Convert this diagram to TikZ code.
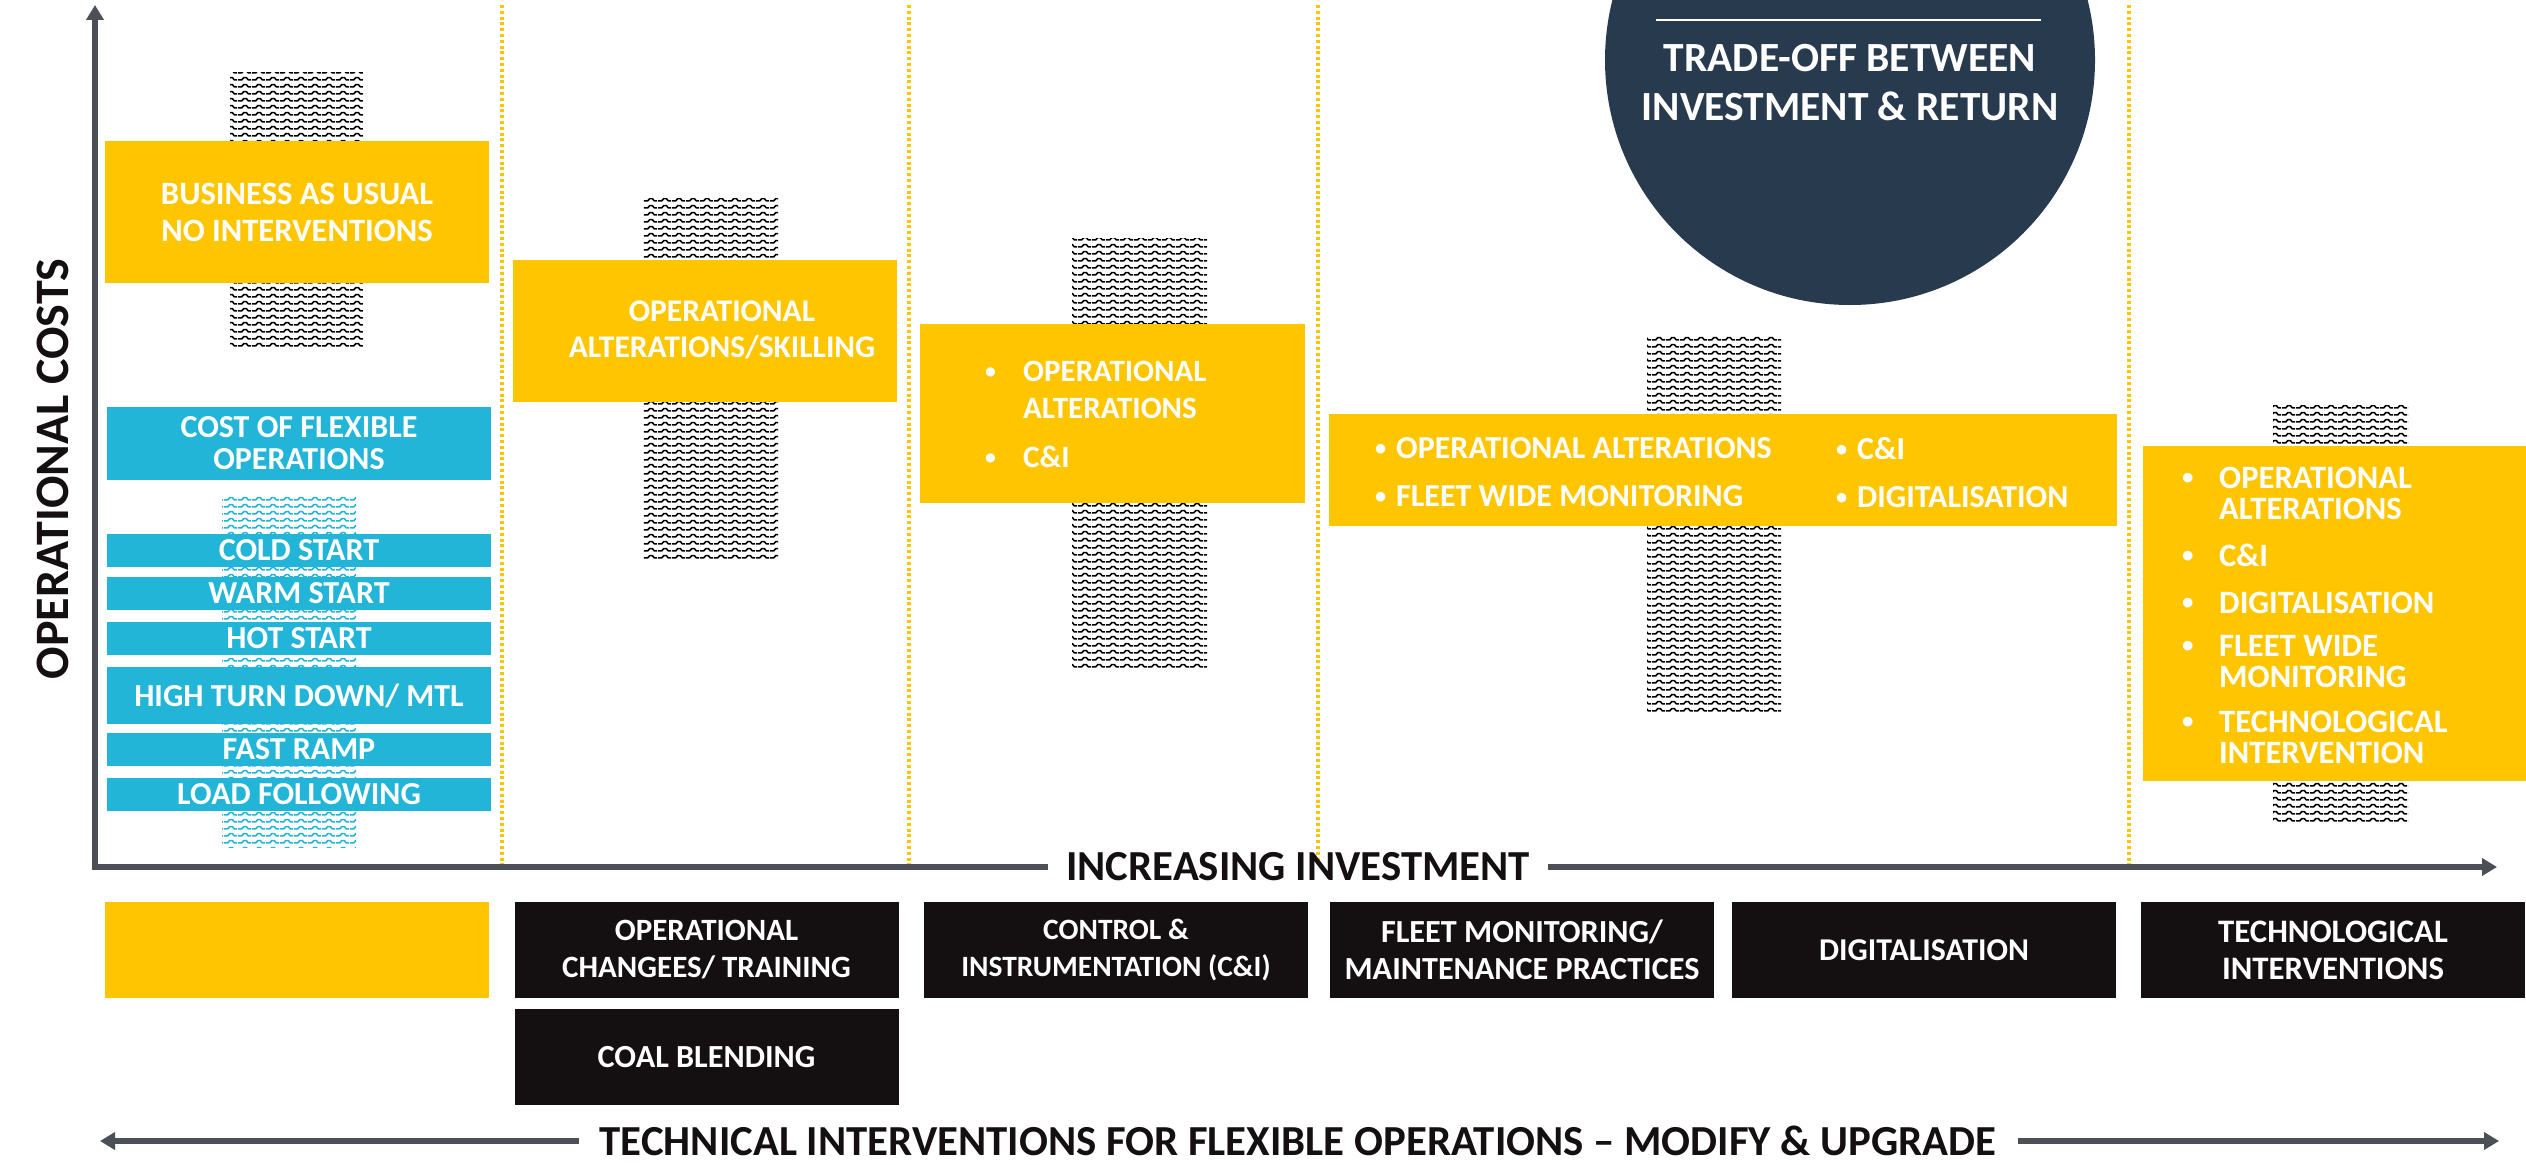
\documentclass[tikz,border=0pt]{standalone}
\usepackage{fontspec}
\setmainfont{Carlito}
\usetikzlibrary{arrows.meta, patterns.meta}

\definecolor{BoxYellow}{HTML}{FFC600}
\definecolor{BoxBlue}{HTML}{23B5D8}
\definecolor{Navy}{HTML}{283A4D}
\definecolor{AxisGray}{HTML}{4A5056}
\definecolor{Ink}{HTML}{140F10}

\newcommand{\itemdot}{\raisebox{0.1em}{\scalebox{0.7}{\textbullet}}}

\tikzdeclarepattern{
  name=ripple,
  type=uncolored,
  bounding box={(0pt,0pt) and (14pt,7.3pt)},
  tile size={(14pt,7.3pt)},
  code={
    \draw[line width=1.7pt] (0pt,1.2pt) -- (4pt,1.2pt) -- (6pt,3.6pt) -- (9pt,3.6pt) -- (11pt,1.2pt) -- (14pt,1.2pt);
  }
}

\begin{document}
\begin{tikzpicture}[x=1pt, y=-1pt,
  ybox/.style={fill=BoxYellow, inner sep=0pt, text=white, align=center, minimum width=384pt,
    font=\bfseries\fontsize{32.6}{37}\selectfont},
  bbox/.style={fill=BoxBlue, inner sep=0pt, text=white, align=center, minimum width=384pt,
    font=\bfseries\fontsize{32}{32}\selectfont},
  kbox/.style={fill=Ink, inner sep=0pt, text=white, align=center, minimum width=384pt, minimum height=96pt},
  listtxt/.style={inner sep=0pt, text=white, align=left, anchor=north west},
  axisline/.style={AxisGray, line width=6pt},
  axislbl/.style={inner ysep=0pt, inner xsep=20pt, text=Ink, font=\bfseries\fontsize{42.8}{46}\selectfont},
  stagesep/.style={BoxYellow, line width=3.5pt, dash pattern=on 3pt off 2.8pt},
  tip/.style={-{Triangle[length=15pt, width=17pt]}}]
\useasboundingbox (0,0) rectangle (2526,1164);

% stage separators
\foreach \x in {502,909,1318,2129}
  \draw[stagesep] (\x,5) -- (\x,864);

% hatched bands behind the boxes
\foreach \xa/\ya/\xb/\yb in {230/72/363/347, 643/198/778/558, 1072/238/1207/669, 1647/334/1781/711, 2273/405/2408/821}
  \fill[pattern=ripple, pattern color=black] (\xa,\ya) rectangle (\xb,\yb);
\fill[pattern=ripple, pattern color=BoxBlue] (222,495) rectangle (356,847);

% trade-off disc
\begin{scope}
\clip (0,0) rectangle (2526,1164);
\fill[Navy] (1850,60) circle [radius=245];
\end{scope}
\draw[white, line width=1.2pt] (1656,20) -- (2041,20);
\node[text=white, align=center, font=\bfseries\fontsize{41.5}{49}\selectfont] (tradeoff) at (1850,82.5)
  {TRADE-OFF BETWEEN\\INVESTMENT \& RETURN};

% column 1
\node[ybox, minimum height=142pt] (bau) at (297,212) {BUSINESS AS USUAL\\NO INTERVENTIONS};
\node[bbox, minimum height=73pt] (flexcost) at (299,443.5) {COST OF FLEXIBLE\\OPERATIONS};
\foreach \nm/\yc/\hh/\txt in {cold/550.5/33/COLD START, warm/593.5/33/WARM START, hot/638.5/33/HOT START,
    mtl/695.5/57/{HIGH TURN DOWN/ MTL}, ramp/749.5/33/FAST RAMP, load/794.5/33/LOAD FOLLOWING}
  \node[bbox, minimum height=\hh] (\nm) at (299,\yc) {\txt};

% column 2
\node[ybox, minimum height=142pt] (skill) at (705,331) {};
\node[text=white, align=center, inner sep=0pt, font=\bfseries\fontsize{31.5}{36}\selectfont] (skill-txt) at (722,330)
  {OPERATIONAL\\ALTERATIONS/SKILLING};

% column 3
\node[ybox, minimum width=385pt, minimum height=179pt] (ci) at (1112.5,413.5) {};
\node[listtxt, font=\bfseries\fontsize{31}{37}\selectfont] (ci-list) at (985,361)
  {\makebox[38pt][l]{\itemdot}OPERATIONAL\\\hspace*{38pt}ALTERATIONS\\[12pt]\makebox[38pt][l]{\itemdot}C\&I};

% column 4
\node[ybox, minimum width=788pt, minimum height=112pt] (fleet) at (1723,470) {};
\node[listtxt, font=\bfseries\fontsize{32}{48}\selectfont] (fleet-lista) at (1375,437.5)
  {\makebox[21pt][l]{\itemdot}OPERATIONAL ALTERATIONS\\\makebox[21pt][l]{\itemdot}FLEET WIDE MONITORING};
\node[listtxt, font=\bfseries\fontsize{32}{48}\selectfont] (fleet-listb) at (1836,437.5)
  {\makebox[21pt][l]{\itemdot}C\&I\\\makebox[21pt][l]{\itemdot}DIGITALISATION};

% column 5
\node[ybox, minimum width=383pt, minimum height=335pt] (tech) at (2334.5,613.5) {};
\node[listtxt, font=\bfseries\fontsize{32.6}{31}\selectfont] (tech-list) at (2182,466.5)
  {\makebox[37pt][l]{\itemdot}OPERATIONAL\\\hspace*{37pt}ALTERATIONS\\[16pt]
   \makebox[37pt][l]{\itemdot}C\&I\\[16pt]
   \makebox[37pt][l]{\itemdot}DIGITALISATION\\[12pt]
   \makebox[37pt][l]{\itemdot}FLEET WIDE\\\hspace*{37pt}MONITORING\\[14pt]
   \makebox[37pt][l]{\itemdot}TECHNOLOGICAL\\\hspace*{37pt}INTERVENTION};

% key row
\node[ybox, minimum height=96pt] (bau-key) at (296.5,950) {};
\foreach \nm/\xc/\yc/\fs/\txt in {ops/706.5/950/31/{OPERATIONAL\\CHANGEES/ TRAINING},
    ctrl/1116/950/29.5/{CONTROL \&\\INSTRUMENTATION (C\&I)},
    fleetmon/1522/950/32.2/{FLEET MONITORING/\\MAINTENANCE PRACTICES},
    digi/1924/950/31.8/DIGITALISATION,
    techint/2333/950/32.8/{TECHNOLOGICAL\\INTERVENTIONS},
    coal/706.5/1057/32.2/COAL BLENDING}
  \node[kbox, font=\bfseries\fontsize{\fs}{37}\selectfont] (\nm-key) at (\xc,\yc) {\txt};

% axes
\coordinate (origin) at (92,867);
\coordinate (yfoot) at (95,870);
\coordinate (ytip) at (95,5);
\coordinate (xtip) at (2497,867);
\draw[axisline, tip] (yfoot) -- (ytip);
\node[axislbl, inner xsep=18pt] (incr) at (1298,867) {INCREASING INVESTMENT};
\draw[axisline] (origin) -- (incr.west);
\draw[axisline, tip] (incr.east) -- (xtip);
\node[rotate=90, text=Ink, font=\bfseries\fontsize{48}{50}\selectfont] (opcost) at (53,469) {OPERATIONAL COSTS};

% bottom span
\coordinate (ltip) at (100,1141);
\coordinate (rtip) at (2499,1141);
\node[axislbl, inner xsep=21pt] (modify) at (1298,1141) {TECHNICAL INTERVENTIONS FOR FLEXIBLE OPERATIONS – MODIFY \& UPGRADE};
\draw[axisline, tip] (modify.west) -- (ltip);
\draw[axisline, tip] (modify.east) -- (rtip);
\end{tikzpicture}
\end{document}
